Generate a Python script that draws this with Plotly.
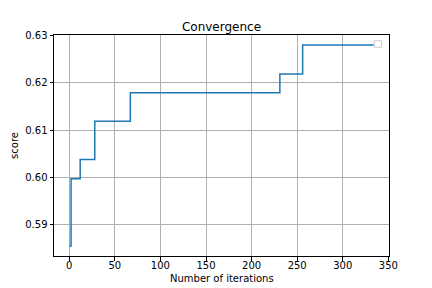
import plotly.graph_objects as go

# Step change points (iteration, best score)
iterations = [0, 2, 12, 28, 67, 231, 256, 334]
scores = [0.5855, 0.5997, 0.6038, 0.6119, 0.6179, 0.6219, 0.6280, 0.6280]

x_ticks = [0, 50, 100, 150, 200, 250, 300, 350]
y_ticks = [0.59, 0.60, 0.61, 0.62, 0.63]
y_tick_labels = ["0.59", "0.60", "0.61", "0.62", "0.63"]

fig = go.Figure()
fig.add_trace(go.Scatter(
    x=iterations, y=scores, mode="lines", line_shape="hv",
    line=dict(color="#1f77b4", width=1.5), showlegend=False,
))

xmin, xmax = min(iterations), max(iterations)
ymin, ymax = min(scores), max(scores)
xm = 0.05 * (xmax - xmin)
ym = 0.05 * (ymax - ymin)

font = dict(family="DejaVu Sans", size=10, color="black")
axis_common = dict(
    showline=True, linecolor="black", linewidth=1, mirror=True,
    ticks="outside", ticklen=3.5, tickwidth=1, tickcolor="black",
    showgrid=True, gridcolor="#b0b0b0", gridwidth=0.8, zeroline=False,
    tickfont=font, automargin=False,
)
fig.update_layout(
    width=432, height=288,
    margin=dict(l=54, r=43.2, t=34.56, b=31.7),
    paper_bgcolor="white", plot_bgcolor="white",
    title=dict(text="Convergence", x=0.5, xref="paper", xanchor="center",
               y=1, yref="paper", yanchor="bottom", pad=dict(b=4),
               font=dict(family="DejaVu Sans", size=12, color="black")),
    xaxis=dict(range=[xmin - xm, xmax + xm], tickvals=x_ticks,
               ticklabelstandoff=-4, **axis_common),
    yaxis=dict(range=[ymin - ym, ymax + ym], tickvals=y_ticks, ticktext=y_tick_labels,
               title=dict(text="score", font=font, standoff=4),
               **axis_common),
    showlegend=False,
)
fig.add_annotation(text="Number of iterations", xref="paper", yref="paper",
                   x=0.5, y=0, xanchor="center", yanchor="top", yshift=-15,
                   showarrow=False, font=font)
# empty legend frame (matplotlib legend with no entries)
fig.add_shape(type="rect", xref="paper", yref="paper",
              x0=0.956, x1=0.978, y0=0.944, y1=0.974,
              line=dict(color="#cccccc", width=1), fillcolor="white")

fig.write_html("out.html")
